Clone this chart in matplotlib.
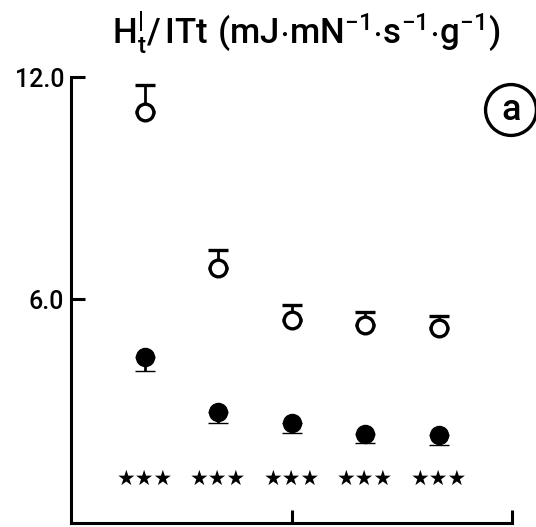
import matplotlib
matplotlib.use("Agg")
import matplotlib.pyplot as plt

# ---- data ----
x_pos = [1, 2, 3, 4, 5]
open_mean = [11.05, 6.84, 5.43, 5.30, 5.22]
open_err = [0.73, 0.48, 0.41, 0.35, 0.32]
filled_mean = [4.43, 2.95, 2.65, 2.35, 2.32]
filled_err = [0.38, 0.30, 0.27, 0.24, 0.27]
significance = ["***", "***", "***", "***", "***"]
y_ticks = [6.0, 12.0]
y_tick_labels = ["6.0", "12.0"]
x_ticks = [3, 6]
title = r"$\mathregular{H_t^{|}/\,ITt\ (mJ{\cdot}mN^{-1}{\cdot}s^{-1}{\cdot}g^{-1})}$"
panel_label = "a"

FAM = ["Roboto", "DejaVu Sans"]
plt.rcParams["font.family"] = FAM
plt.rcParams["font.weight"] = "medium"
plt.rcParams["mathtext.fontset"] = "custom"
plt.rcParams["mathtext.rm"] = "Roboto:medium"
plt.rcParams["mathtext.it"] = "Roboto:medium"

fig = plt.figure(figsize=(5.36, 5.27), dpi=100)
ax = fig.add_axes([71 / 536, 4 / 527, (512 - 71) / 536, (523 - 77) / 527])

lw = 2.2
# open symbols: upward error bars
ax.errorbar(x_pos, open_mean, yerr=[[0] * 5, open_err], fmt="o", ms=12,
            mfc="white", mec="black", mew=2.4, ecolor="black", elinewidth=2.0,
            capsize=7, capthick=3.0, zorder=3)
# filled symbols: downward error bars
ax.errorbar(x_pos, filled_mean, yerr=[filled_err, [0] * 5], fmt="o", ms=13,
            mfc="black", mec="black", mew=1, ecolor="black", elinewidth=2.0,
            capsize=7, capthick=3.0, zorder=3)

for xi, s in zip(x_pos, significance):
    ax.text(xi, 1.13, s.replace("*", "\u2605"), ha="center", va="center",
            fontsize=15, family="DejaVu Sans")

ax.set_xlim(0, 6)
ax.set_ylim(-0.05, 12)
ax.set_xticks(x_ticks)
ax.set_xticklabels([])
ax.set_yticks(y_ticks)
ax.set_yticklabels(y_tick_labels, fontsize=18, fontweight="medium")
ax.tick_params(axis="both", direction="in", width=lw, color="black")
ax.tick_params(axis="x", length=9.5)
ax.tick_params(axis="y", length=10, pad=5)
for side in ["top", "right"]:
    ax.spines[side].set_visible(False)
for side in ["left", "bottom"]:
    ax.spines[side].set_linewidth(lw)
    ax.spines[side].set_capstyle("projecting")

fig.text(306 / 536, 1 - 33 / 527, title, ha="center", va="center", fontsize=25)
fig.text(511 / 536, 1 - 110 / 527, panel_label, ha="center", va="center",
         fontsize=26, fontweight="medium",
         bbox=dict(boxstyle="circle,pad=0.22", fc="white", ec="black", lw=2.4))

fig.savefig("out.png", dpi=100)
